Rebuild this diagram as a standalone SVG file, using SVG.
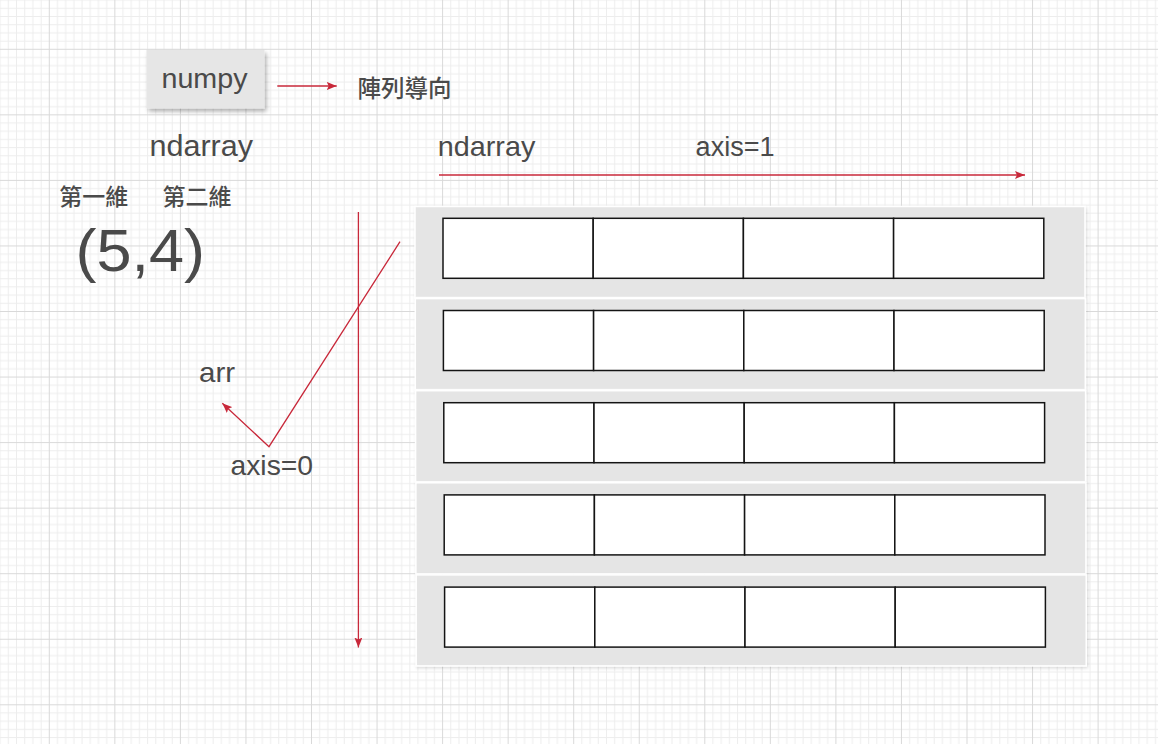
<svg xmlns="http://www.w3.org/2000/svg" width="1158" height="744" viewBox="0 0 1158 744">
<style>
.t{font-family:"Liberation Sans",Arial,"Noto Sans CJK TC",sans-serif;fill:#4a4a4a}
.c{font-family:"Noto Sans CJK TC","Noto Sans CJK SC",sans-serif;fill:#4a4a4a;font-weight:500}
.red{stroke:#c8283a;stroke-width:1.3;fill:none}
.row{fill:#e5e5e5;stroke:#ffffff;stroke-width:1.5}
.cell{fill:#ffffff;stroke:#141414;stroke-width:1.5}
</style>
<defs>
<pattern id="grid" patternUnits="userSpaceOnUse" x="48.8" y="48.8" width="65.55" height="65.55">
<path d="M8.69 0V65.55M16.89 0V65.55M25.08 0V65.55M33.28 0V65.55M41.47 0V65.55M49.66 0V65.55M57.86 0V65.55M0 8.69H65.55M0 16.89H65.55M0 25.08H65.55M0 33.28H65.55M0 41.47H65.55M0 49.66H65.55M0 57.86H65.55" stroke="#ededed" stroke-width="1" fill="none"/>
<path d="M0.5 0V65.55M0 0.5H65.55" stroke="#d9d9d9" stroke-width="1" fill="none"/>
</pattern>
<filter id="sh" x="-10%" y="-10%" width="130%" height="140%">
<feDropShadow dx="2" dy="3" stdDeviation="2" flood-color="#000" flood-opacity="0.3"/>
</filter>
<filter id="sh2" x="-5%" y="-10%" width="110%" height="130%">
<feDropShadow dx="1" dy="1.5" stdDeviation="1.5" flood-color="#000" flood-opacity="0.15"/>
</filter>
<marker id="ah" viewBox="0 0 10 8" refX="10" refY="4" markerWidth="10" markerHeight="8" markerUnits="userSpaceOnUse" orient="auto">
<path d="M0,0 L10,4 L0,8 L2,4 Z" fill="#c8283a"/>
</marker>
</defs>
<rect width="1158" height="744" fill="#ffffff"/>
<rect width="1158" height="744" fill="url(#grid)"/>

<g id="numpy">
<rect x="146.5" y="50" width="118" height="58.5" fill="#e6e6e6" filter="url(#sh)"/>
<text class="t" x="161.5" y="88" font-size="28" textLength="86" lengthAdjust="spacingAndGlyphs">numpy</text>
</g>
<g id="label-array-oriented">
<text class="c" x="357.5" y="96.5" font-size="23.5">陣列導向</text>
</g>
<g id="ndarray-left">
<text class="t" x="149.5" y="155.7" font-size="29" textLength="103.5" lengthAdjust="spacingAndGlyphs">ndarray</text>
</g>
<g id="dim1"><text class="c" x="59.3" y="205" font-size="23">第一維</text></g>
<g id="dim2"><text class="c" x="162.6" y="205" font-size="23">第二維</text></g>
<g id="shape">
<text class="t" x="75.5" y="271" font-size="60" textLength="129.5" lengthAdjust="spacingAndGlyphs">(5,4)</text>
</g>
<g id="arr-label"><text class="t" x="199" y="381.7" font-size="28" textLength="36" lengthAdjust="spacingAndGlyphs">arr</text></g>
<g id="axis0"><text class="t" x="230.5" y="475" font-size="28" textLength="82.5" lengthAdjust="spacingAndGlyphs">axis=0</text></g>
<g id="ndarray-right"><text class="t" x="437.8" y="155.7" font-size="27.5" textLength="97.5" lengthAdjust="spacingAndGlyphs">ndarray</text></g>
<g id="axis1"><text class="t" x="695.6" y="155.7" font-size="27" textLength="79" lengthAdjust="spacingAndGlyphs">axis=1</text></g>

<g id="array">
<g id="row1">
<rect class="row" x="415" y="206.5" width="670" height="91" filter="url(#sh2)"/>
<rect class="cell" x="443" y="218.3" width="150.2" height="60"/>
<rect class="cell" x="593.2" y="218.3" width="150.2" height="60"/>
<rect class="cell" x="743.4" y="218.3" width="150.2" height="60"/>
<rect class="cell" x="893.6" y="218.3" width="150.2" height="60"/>
</g>
<g id="row2">
<rect class="row" x="415.3" y="298.6" width="670" height="91" filter="url(#sh2)"/>
<rect class="cell" x="443.4" y="310.5" width="150.2" height="60"/>
<rect class="cell" x="593.6" y="310.5" width="150.2" height="60"/>
<rect class="cell" x="743.8" y="310.5" width="150.2" height="60"/>
<rect class="cell" x="894" y="310.5" width="150.2" height="60"/>
</g>
<g id="row3">
<rect class="row" x="415.6" y="390.7" width="670" height="91" filter="url(#sh2)"/>
<rect class="cell" x="443.8" y="402.7" width="150.2" height="60"/>
<rect class="cell" x="594" y="402.7" width="150.2" height="60"/>
<rect class="cell" x="744.2" y="402.7" width="150.2" height="60"/>
<rect class="cell" x="894.4" y="402.7" width="150.2" height="60"/>
</g>
<g id="row4">
<rect class="row" x="415.9" y="482.8" width="670" height="91" filter="url(#sh2)"/>
<rect class="cell" x="444.2" y="494.9" width="150.2" height="60"/>
<rect class="cell" x="594.4" y="494.9" width="150.2" height="60"/>
<rect class="cell" x="744.6" y="494.9" width="150.2" height="60"/>
<rect class="cell" x="894.8" y="494.9" width="150.2" height="60"/>
</g>
<g id="row5">
<rect class="row" x="416.2" y="574.9" width="670" height="91" filter="url(#sh2)"/>
<rect class="cell" x="444.6" y="587.1" width="150.2" height="60"/>
<rect class="cell" x="594.8" y="587.1" width="150.2" height="60"/>
<rect class="cell" x="745" y="587.1" width="150.2" height="60"/>
<rect class="cell" x="895.2" y="587.1" width="150.2" height="60"/>
</g>
</g>

<g id="connectors">
<line class="red" x1="277.3" y1="86" x2="336.7" y2="86" marker-end="url(#ah)"/>
<line class="red" x1="439" y1="175" x2="1025" y2="175" marker-end="url(#ah)"/>
<line class="red" x1="358.4" y1="212" x2="358.4" y2="647.5" marker-end="url(#ah)"/>
<polyline class="red" points="400,241.7 269,446.7 222.3,403.3" marker-end="url(#ah)"/>
</g>
</svg>
